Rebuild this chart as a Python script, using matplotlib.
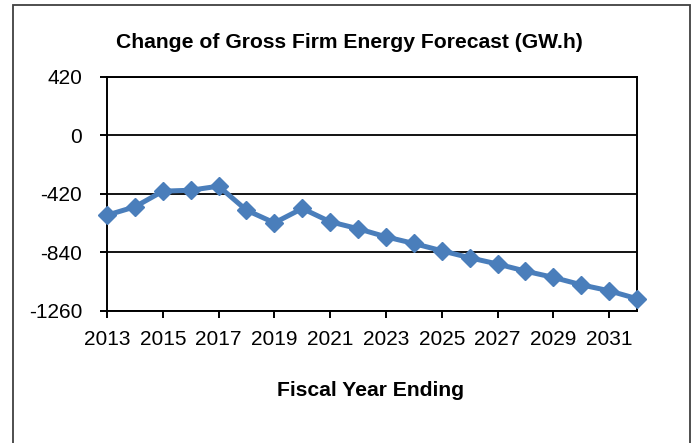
import matplotlib.pyplot as plt
from matplotlib.patches import Rectangle

# values
years = list(range(2013, 2033))
change_gwh = [-573, -513, -401, -394, -365, -537, -628, -525, -620, -670,
              -728, -776, -828, -878, -923, -974, -1019, -1072, -1115, -1172]
y_ticks = [-1260, -840, -420, 0, 420]
x_ticks = list(range(2013, 2033, 2))

title = "Change of Gross Firm Energy Forecast (GW.h)"
x_label = "Fiscal Year Ending"

plt.rcParams['font.family'] = ['Liberation Sans', 'DejaVu Sans']
plt.rcParams['axes.unicode_minus'] = False

W, H = 692, 443
fig = plt.figure(figsize=(W / 100, H / 100), dpi=100)
ax = fig.add_axes([107 / W, 1 - 311 / H, (637 - 107) / W, (311 - 76.7) / H])

ax.plot(years, change_gwh, color='#4A7EBB', lw=3.6, marker='D', ms=9,
        clip_on=False, zorder=3)

ax.set_xlim(2013, 2032)
ax.set_ylim(-1260, 420)
ax.set_yticks(y_ticks)
ax.set_xticks(x_ticks)
ax.grid(axis='y', color='black', lw=1.3)
ax.set_axisbelow(True)
for s in ax.spines.values():
    s.set_linewidth(1.4)
    s.set_color('black')
ax.tick_params(axis='both', length=5, width=1.4, labelsize=15, colors='black')
ax.tick_params(axis='y', pad=13)
ax.tick_params(axis='x', pad=9)

fig.text(349 / W, 1 - 47.7 / H, title, ha='center', va='baseline',
         fontsize=15.2, fontweight='bold')
fig.text(371 / W, 1 - 396 / H, x_label, ha='center', va='baseline',
         fontsize=15.2, fontweight='bold')

# outer chart border (runs off the bottom edge in the reference)
fig.patches.append(Rectangle((13 / W, -0.1), (690 - 13) / W, 1.1 - 5 / H,
                             transform=fig.transFigure, fill=False,
                             edgecolor='#404040', lw=1.3))

fig.savefig('out.png', dpi=100)
